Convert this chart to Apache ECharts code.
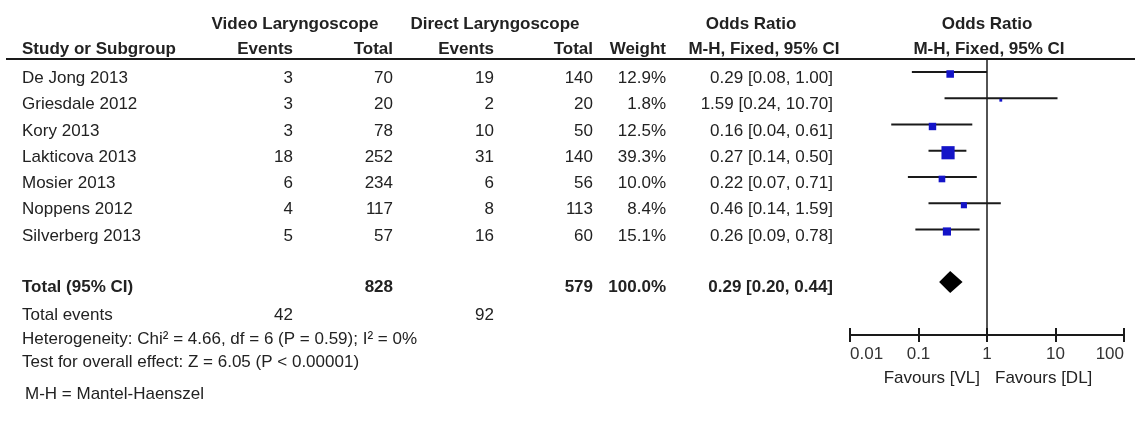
<!DOCTYPE html>
<html>
<head>
<meta charset="utf-8">
<script src="https://cdn.jsdelivr.net/npm/echarts@6/dist/echarts.min.js"></script>
<style>
  html, body { margin: 0; padding: 0; background: #fff; }
  #chart { width: 1135px; height: 421px; }
</style>
</head>
<body>
<div id="chart"></div>
<script>
// Study-level data: video vs direct laryngoscope
const studies   = ['De Jong 2013', 'Griesdale 2012', 'Kory 2013', 'Lakticova 2013', 'Mosier 2013', 'Noppens 2012', 'Silverberg 2013'];
const vlEvents  = [3, 3, 3, 18, 6, 4, 5];
const vlTotal   = [70, 20, 78, 252, 234, 117, 57];
const dlEvents  = [19, 2, 10, 31, 6, 8, 16];
const dlTotal   = [140, 20, 50, 140, 56, 113, 60];
const weights   = [12.9, 1.8, 12.5, 39.3, 10.0, 8.4, 15.1];
const oddsRatio = [0.29, 1.59, 0.16, 0.27, 0.22, 0.46, 0.26];
const ciLow     = [0.08, 0.24, 0.04, 0.14, 0.07, 0.14, 0.09];
const ciHigh    = [1.00, 10.70, 0.61, 0.50, 0.71, 1.59, 0.78];

// Pooled (fixed-effect) result and totals
const pooledOR   = [0.29];
const pooledLow  = [0.20];
const pooledHigh = [0.44];
const totals      = [828, 579];   // VL, DL participants
const totalEvents = [42, 92];     // VL, DL events
const totalWeight = [100.0];

// Log-scale tick labels
const tickValues = [0.01, 0.1, 1, 10, 100];
const tickLabels = ['0.01', '0.1', '1', '10', '100'];

const TOTAL_ROW = studies.length + 1;   // one blank row before the total
const FONT = '"Liberation Sans", Arial, Helvetica, sans-serif';
const TXT = '#222';

const chart = echarts.init(document.getElementById('chart'), null, { renderer: 'canvas' });

const xAxisBase = {
  type: 'log', logBase: 10, min: 0.01, max: 100, position: 'bottom',
  splitLine: { show: false }, minorTick: { show: false }
};

chart.setOption({
  animation: false,
  backgroundColor: '#fff',
  grid: { left: 850, right: 11, top: 58, bottom: 86 },
  xAxis: [
    Object.assign({}, xAxisBase, {
      axisLine: { show: true, onZero: false, lineStyle: { color: '#1a1a1a', width: 2 } },
      axisTick: { show: true, length: 7, lineStyle: { color: '#1a1a1a', width: 2 } },
      axisLabel: {
        show: true, margin: 11, fontSize: 17, fontFamily: FONT, color: '#333',
        alignMinLabel: 'left', alignMaxLabel: 'right',
        formatter: v => {
          const k = tickValues.findIndex(t => Math.abs(Math.log10(t) - Math.log10(v)) < 1e-6);
          return k >= 0 ? tickLabels[k] : '';
        }
      }
    }),
    Object.assign({}, xAxisBase, {
      axisLine: { show: false, onZero: false },
      axisTick: { show: true, inside: true, length: 7, lineStyle: { color: '#1a1a1a', width: 2 } },
      axisLabel: { show: false }
    })
  ],
  yAxis: { type: 'value', inverse: true, min: -0.533, max: 10.02, show: false },
  series: [
    {
      // confidence interval whiskers
      type: 'custom',
      xAxisIndex: 0,
      data: studies.map((s, i) => [ciLow[i], ciHigh[i], i]),
      encode: { x: [0, 1], y: 2 },
      renderItem: (params, api) => {
        const a = api.coord([api.value(0), api.value(2)]);
        const b = api.coord([api.value(1), api.value(2)]);
        return {
          type: 'line',
          shape: { x1: a[0], y1: a[1], x2: b[0], y2: b[1] },
          style: { stroke: '#1a1a1a', lineWidth: 2 }
        };
      },
      markLine: {
        silent: true, symbol: 'none',
        label: { show: false },
        lineStyle: { color: '#1a1a1a', width: 1.5, type: 'solid' },
        data: [{ xAxis: 1 }]
      },
      z: 2
    },
    {
      // study point estimates, box area proportional to weight
      type: 'scatter',
      xAxisIndex: 0,
      symbol: 'rect',
      symbolOffset: [0, 2],
      data: studies.map((s, i) => [oddsRatio[i], i, weights[i]]),
      symbolSize: v => Math.sqrt(v[2]) * 2.1,
      itemStyle: { color: '#1414c8', opacity: 1 },
      z: 3
    },
    {
      // pooled estimate diamond
      type: 'custom',
      xAxisIndex: 0,
      data: pooledOR.map((v, i) => [pooledLow[i], v, pooledHigh[i], TOTAL_ROW]),
      encode: { x: [0, 2], y: 3 },
      renderItem: (params, api) => {
        const l = api.coord([api.value(0), api.value(3)]);
        const c = api.coord([api.value(1), api.value(3)]);
        const r = api.coord([api.value(2), api.value(3)]);
        const h = 11;
        return {
          type: 'polygon',
          shape: { points: [[l[0], l[1]], [c[0], c[1] - h], [r[0], r[1]], [c[0], c[1] + h]] },
          style: { fill: '#000' }
        };
      },
      z: 3
    }
  ]
});

// ---- table text, aligned to the forest-plot rows ----
const rowY = (i, dy) => chart.convertToPixel({ yAxisIndex: 0 }, i) + dy;
const txt = (text, x, y, align, bold) => ({
  type: 'text', x: x, y: y, silent: true,
  style: {
    text: String(text), fill: TXT,
    font: (bold ? 'bold ' : '') + '17px ' + FONT,
    textAlign: align, textVerticalAlign: 'middle'
  }
});
const col = { study: 22, vlEv: 293, vlTot: 393, dlEv: 494, dlTot: 593, weight: 666, or: 833 };
const fmtCI = (o, l, h) => `${o.toFixed(2)} [${l.toFixed(2)}, ${h.toFixed(2)}]`;

const g = [];
// header
g.push(txt('Video Laryngoscope', 295, 24, 'center', true));
g.push(txt('Direct Laryngoscope', 495, 24, 'center', true));
g.push(txt('Odds Ratio', 751, 24, 'center', true));
g.push(txt('Odds Ratio', 987, 24, 'center', true));
g.push(txt('Study or Subgroup', col.study, 49, 'left', true));
g.push(txt('Events', col.vlEv, 49, 'right', true));
g.push(txt('Total', col.vlTot, 49, 'right', true));
g.push(txt('Events', col.dlEv, 49, 'right', true));
g.push(txt('Total', col.dlTot, 49, 'right', true));
g.push(txt('Weight', col.weight, 49, 'right', true));
g.push(txt('M-H, Fixed, 95% CI', 764, 49, 'center', true));
g.push(txt('M-H, Fixed, 95% CI', 989, 49, 'center', true));
g.push({
  type: 'line', silent: true,
  shape: { x1: 6, y1: 59, x2: 1135, y2: 59 },
  style: { stroke: '#1a1a1a', lineWidth: 2 }
});

// study rows
studies.forEach((s, i) => {
  const y = rowY(i, 6.5);
  g.push(txt(s, col.study, y, 'left'));
  g.push(txt(vlEvents[i], col.vlEv, y, 'right'));
  g.push(txt(vlTotal[i], col.vlTot, y, 'right'));
  g.push(txt(dlEvents[i], col.dlEv, y, 'right'));
  g.push(txt(dlTotal[i], col.dlTot, y, 'right'));
  g.push(txt(weights[i].toFixed(1) + '%', col.weight, y, 'right'));
  g.push(txt(fmtCI(oddsRatio[i], ciLow[i], ciHigh[i]), col.or, y, 'right'));
});

// total row
const ty = rowY(TOTAL_ROW, 5.5);
g.push(txt('Total (95% CI)', col.study, ty, 'left', true));
g.push(txt(totals[0], col.vlTot, ty, 'right', true));
g.push(txt(totals[1], col.dlTot, ty, 'right', true));
g.push(txt(totalWeight[0].toFixed(1) + '%', col.weight, ty, 'right', true));
g.push(txt(fmtCI(pooledOR[0], pooledLow[0], pooledHigh[0]), col.or, ty, 'right', true));

// footer
g.push(txt('Total events', col.study, 315, 'left'));
g.push(txt(totalEvents[0], col.vlEv, 315, 'right'));
g.push(txt(totalEvents[1], col.dlEv, 315, 'right'));
g.push(txt('Heterogeneity: Chi² = 4.66, df = 6 (P = 0.59); I² = 0%', col.study, 339, 'left'));
g.push(txt('Test for overall effect: Z = 6.05 (P < 0.00001)', col.study, 362, 'left'));
g.push(txt('M-H = Mantel-Haenszel', 25, 394, 'left'));

// favours labels under the axis
g.push(txt('Favours [VL]', 980, 378, 'right'));
g.push(txt('Favours [DL]', 995, 378, 'left'));

chart.setOption({ graphic: g });
</script>
</body>
</html>
